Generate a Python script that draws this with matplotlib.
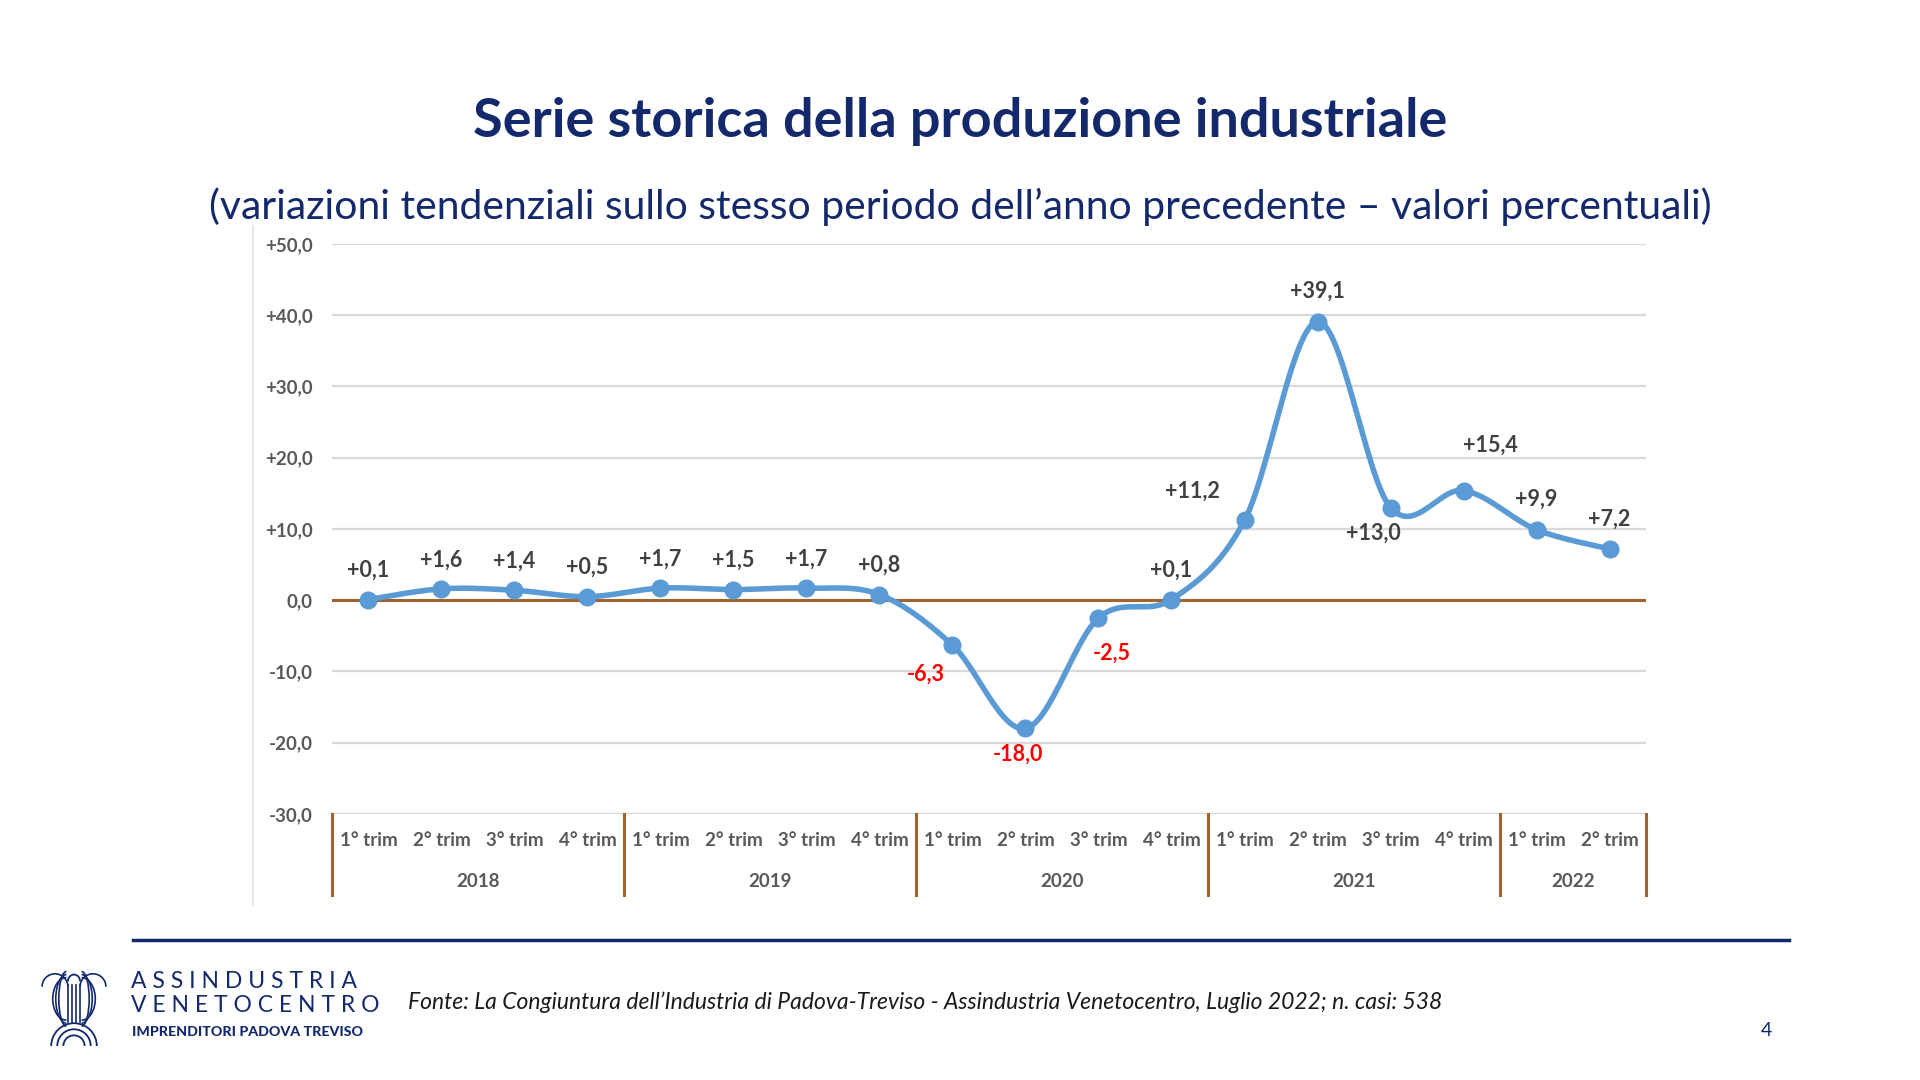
import numpy as np
import matplotlib
matplotlib.use('Agg')
import matplotlib.pyplot as plt
from matplotlib.lines import Line2D
from matplotlib.patches import Arc
import matplotlib.transforms as mtransforms

# data
years = ['2018', '2019', '2020', '2021', '2022']
quarters_per_year = [4, 4, 4, 4, 2]
quarter_labels = ['1° trim', '2° trim', '3° trim', '4° trim'] * 4 + ['1° trim', '2° trim']
values = [0.1, 1.6, 1.4, 0.5, 1.7, 1.5, 1.7, 0.8, -6.3, -18.0, -2.5, 0.1,
          11.2, 39.1, 13.0, 15.4, 9.9, 7.2]
y_ticks = [-30, -20, -10, 0, 10, 20, 30, 40, 50]

NAVY = '#13296B'
BLUE = '#5B9BD5'
BROWN = '#A0632F'
GRID = '#D9D9D9'
LABEL_GRAY = '#595959'
VAL_GRAY = '#404040'
RED = '#FF0000'
FONT = 'Lato'

# label offsets in pixels (style only)
label_offsets = [(0, 29), (0, 29), (0, 29), (0, 29), (0, 29), (0, 29), (0, 29), (0, 29),
                 (-27, -29), (-8, -26), (13, -35), (0, 29),
                 (-52, 29), (0, 30), (-17, -26), (27, 45), (0, 30), (0, 30)]


def fmt(v):
    s = ('%+.1f' % v).replace('.', ',')
    return s


def smooth(x, y, n=30):
    # Bezier smoothing through points, similar to spreadsheet "smoothed line"
    x = np.asarray(x, float)
    y = np.asarray(y, float)
    px = np.concatenate([[x[0]], x, [x[-1]]])
    py = np.concatenate([[y[0]], y, [y[-1]]])
    xs, ys = [], []
    t = np.linspace(0, 1, n)
    for i in range(1, len(px) - 2):
        p0 = np.array([px[i], py[i]])
        p3 = np.array([px[i + 1], py[i + 1]])
        p1 = p0 + (np.array([px[i + 1], py[i + 1]]) - np.array([px[i - 1], py[i - 1]])) / 6
        p2 = p3 - (np.array([px[i + 2], py[i + 2]]) - np.array([px[i], py[i]])) / 6
        b = ((1 - t) ** 3)[:, None] * p0 + (3 * (1 - t) ** 2 * t)[:, None] * p1 \
            + (3 * (1 - t) * t ** 2)[:, None] * p2 + (t ** 3)[:, None] * p3
        xs.extend(b[:, 0])
        ys.extend(b[:, 1])
    return np.array(xs), np.array(ys)


fig = plt.figure(figsize=(19.2, 10.8), dpi=100)
fig.patch.set_facecolor('white')

ax = fig.add_axes([0.1729, 0.2463, 0.6844, 0.5278])
x = np.arange(len(values))
ax.set_xlim(-0.5, len(values) - 0.5)
ax.set_ylim(-30, 50)
for spine in ax.spines.values():
    spine.set_visible(False)
ax.set_yticks(y_ticks)
ax.set_yticklabels(['0,0' if t == 0 else fmt(t) for t in y_ticks],
                   fontsize=13.5, fontweight='bold', color=LABEL_GRAY, family=FONT)
ax.tick_params(axis='y', length=0, pad=14)
ax.set_xticks([])
for t in y_ticks:
    if t != 0:
        ax.axhline(t, color=GRID, lw=1.6, zorder=1)
ax.axhline(0, color=BROWN, lw=2.2, zorder=2)

sx, sy = smooth(x, values)
ax.plot(sx, sy, color=BLUE, lw=4, zorder=3, solid_capstyle='round')
ax.plot(x, values, 'o', color=BLUE, ms=12, zorder=4)

for xi, v, off in zip(x, values, label_offsets):
    ax.annotate(fmt(v), (xi, v), xytext=off, textcoords='offset pixels',
                ha='center', va='center', fontsize=15.5, fontweight='bold',
                color=RED if v < 0 else VAL_GRAY, family=FONT, zorder=5)

# category axis with year groups
trans = mtransforms.blended_transform_factory(ax.transData, ax.transAxes)
for xi, q in zip(x, quarter_labels):
    ax.text(xi, -0.047, q, transform=trans, ha='center', va='center',
            fontsize=13.5, fontweight='bold', color=LABEL_GRAY, family=FONT)
start = 0
bounds = [-0.5]
for yr, n in zip(years, quarters_per_year):
    mid = start + (n - 1) / 2
    ax.text(mid, -0.119, yr, transform=trans, ha='center', va='center',
            fontsize=13.5, fontweight='bold', color=LABEL_GRAY, family=FONT)
    start += n
    bounds.append(start - 0.5)
for b in bounds:
    ax.add_line(Line2D([b, b], [0, -0.142], transform=trans, color=BROWN,
                       lw=2.2, clip_on=False))

# faint frame line at the left of the chart
fig.add_artist(Line2D([253 / 1920, 253 / 1920], [1 - 226 / 1080, 1 - 905 / 1080],
                      color='#E4E4E4', lw=1.2))

# titles
fig.text(0.5, 1 - 121 / 1080, 'Serie storica della produzione industriale',
         ha='center', va='center', fontsize=39, fontweight='bold', color=NAVY, family=FONT)
fig.text(0.5, 1 - 207 / 1080,
         '(variazioni tendenziali sullo stesso periodo dell\u2019anno precedente \u2013 valori percentuali)',
         ha='center', va='center', fontsize=29.4, color=NAVY, family=FONT)

# footer
fig.add_artist(Line2D([133 / 1920, 1789 / 1920], [1 - 940 / 1080, 1 - 940 / 1080],
                      color=NAVY, lw=2.5))
fig.text(408 / 1920, 1 - 1002 / 1080,
         'Fonte: La Congiuntura dell\u2019Industria di Padova-Treviso - Assindustria Venetocentro, Luglio 2022; n. casi: 538',
         ha='left', va='center', fontsize=16.5, style='italic', color='#1A1A1A', family=FONT)
fig.text(1766 / 1920, 1 - 1030 / 1080, '4', ha='center', va='center',
         fontsize=14, color=NAVY, family=FONT)

# logo text
fig.text(131 / 1920, 1 - 982 / 1080, 'A S S I N D U S T R I A', ha='left', va='center',
         fontsize=16.5, color=NAVY, family=FONT)
fig.text(131 / 1920, 1 - 1006 / 1080, 'V E N E T O C E N T R O', ha='left', va='center',
         fontsize=16.5, color=NAVY, family=FONT)
fig.text(132 / 1920, 1 - 1032 / 1080, 'IMPRENDITORI PADOVA TREVISO', ha='left', va='center',
         fontsize=10.2, color=NAVY, family=FONT, fontweight='black')

# simple emblem
lax = fig.add_axes([36 / 1920, 1 - 1046 / 1080, 76 / 1920, 76 / 1080])
lax.set_xlim(0, 1)
lax.set_ylim(0, 1)
lax.axis('off')
for r in [0.14, 0.22, 0.30]:
    lax.add_patch(Arc((0.5, 0.0), 2 * r, 2 * r, theta1=0, theta2=180, color=NAVY, lw=1.3))
for cx in [0.42, 0.47, 0.53, 0.58]:
    lax.plot([cx, cx], [0.32, 0.80], color=NAVY, lw=1.2)
lax.add_patch(Arc((0.5, 0.85), 0.16, 0.18, theta1=0, theta2=180, color=NAVY, lw=1.3))
for side in [-1, 1]:
    for k, w in enumerate([0.20, 0.28, 0.36]):
        lax.add_patch(Arc((0.5 + side * 0.10, 0.62), w, 0.72 - k * 0.08,
                          theta1=(90 if side < 0 else -90), theta2=(270 if side < 0 else 90),
                          color=NAVY, lw=1.2))
    lax.add_patch(Arc((0.5 + side * 0.25, 0.78), 0.34, 0.34, theta1=0, theta2=180,
                      color=NAVY, lw=1.2))

fig.savefig('out.png', dpi=100, facecolor='white')
